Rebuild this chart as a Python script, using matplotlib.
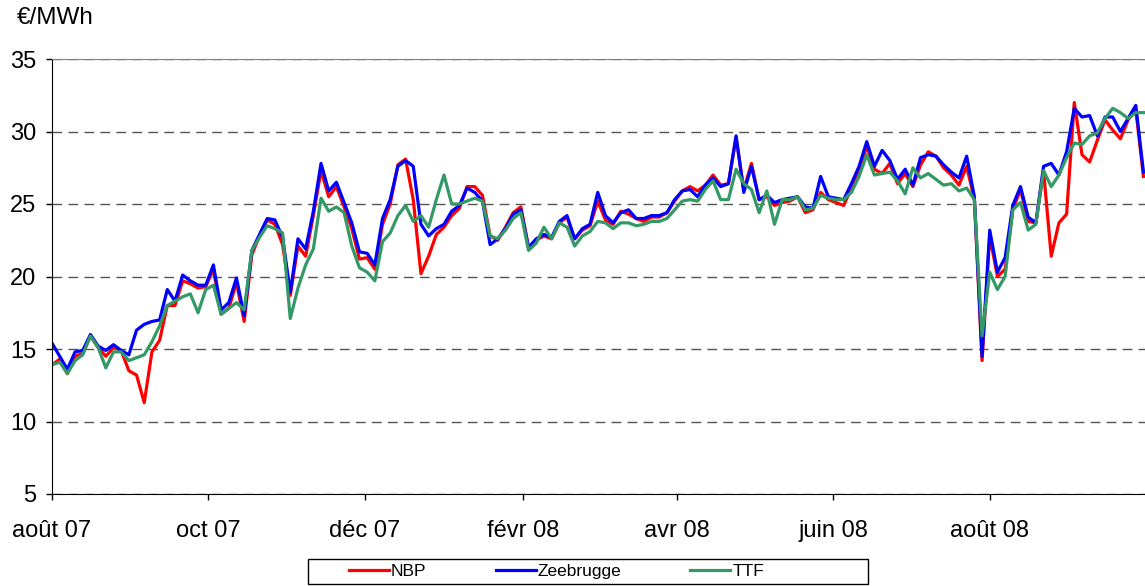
import numpy as np
import matplotlib
matplotlib.use("Agg")
import matplotlib.pyplot as plt
import matplotlib.dates as mdates
from matplotlib.patches import Rectangle

plt.rcParams['font.family'] = ['Liberation Sans', 'DejaVu Sans']

# prices sampled every 3 days from 1 Aug 2007 (EUR/MWh)
start = np.datetime64('2007-08-01')
dates = start + np.arange(0, 427, 3).astype('timedelta64[D]')

zeebrugge = [
    15.4, 14.5, 13.6, 14.8, 14.9, 16.0, 15.2, 14.9, 15.3, 14.9,
    14.6, 16.3, 16.7, 16.9, 17.0, 19.1, 18.3, 20.1, 19.7, 19.4,
    19.4, 20.8, 17.7, 18.2, 19.9, 17.3, 21.8, 22.9, 24.0, 23.9,
    22.7, 18.9, 22.6, 21.9, 24.5, 27.8, 25.9, 26.5, 25.1, 23.7,
    21.7, 21.6, 20.8, 24.0, 25.3, 27.6, 28.0, 27.6, 23.6, 22.8,
    23.3, 23.6, 24.5, 24.9, 26.1, 25.8, 25.2, 22.2, 22.6, 23.3,
    24.3, 24.6, 22.0, 22.6, 22.9, 22.7, 23.8, 24.2, 22.6, 23.3,
    23.6, 25.8, 24.2, 23.7, 24.4, 24.6, 24.0, 24.0, 24.2, 24.2,
    24.4, 25.3, 25.9, 26.0, 25.5, 26.3, 26.8, 26.2, 26.4, 29.7,
    25.8, 27.6, 25.3, 25.6, 25.1, 25.3, 25.4, 25.5, 24.8, 24.7,
    26.9, 25.5, 25.4, 25.3, 26.4, 27.6, 29.3, 27.6, 28.7, 28.0,
    26.7, 27.4, 26.3, 28.2, 28.4, 28.3, 27.7, 27.2, 26.8, 28.3,
    25.5, 14.5, 23.2, 20.3, 21.3, 24.9, 26.2, 24.1, 23.7, 27.6,
    27.8, 27.0, 28.6, 31.6, 31.0, 31.1, 29.7, 31.0, 31.0, 30.0,
    30.9, 31.8, 27.2,
]

nbp = [
    13.9, 14.3, 13.3, 14.5, 14.7, 15.9, 15.1, 14.5, 15.1, 14.9,
    13.5, 13.2, 11.3, 14.8, 15.6, 18.0, 18.0, 19.7, 19.5, 19.2,
    19.3, 20.5, 17.4, 17.8, 19.6, 16.9, 21.5, 22.8, 23.9, 23.6,
    22.2, 18.7, 22.1, 21.4, 24.2, 27.3, 25.5, 26.2, 24.8, 23.3,
    21.2, 21.3, 20.5, 23.6, 25.0, 27.7, 28.1, 25.3, 20.2, 21.4,
    22.9, 23.4, 24.2, 24.7, 26.2, 26.2, 25.6, 22.8, 22.5, 23.4,
    24.4, 24.8, 22.0, 22.5, 22.8, 22.6, 23.7, 24.1, 22.6, 23.2,
    23.5, 25.2, 23.9, 23.6, 24.5, 24.3, 24.0, 23.8, 24.1, 24.1,
    24.4, 25.2, 25.9, 26.2, 25.9, 26.3, 27.0, 26.3, 26.4, 29.6,
    26.0, 27.8, 25.3, 25.5, 24.9, 25.1, 25.2, 25.5, 24.4, 24.6,
    25.8, 25.3, 25.1, 24.9, 26.1, 27.2, 29.0, 27.4, 27.1, 27.8,
    26.4, 27.1, 26.2, 27.7, 28.6, 28.3, 27.5, 27.0, 26.3, 27.6,
    25.3, 14.2, 22.8, 20.0, 20.5, 24.6, 26.0, 23.8, 23.7, 27.3,
    21.4, 23.7, 24.3, 32.0, 28.4, 27.9, 29.4, 30.8, 30.1, 29.5,
    30.8, 31.5, 26.9,
]

ttf = [
    13.9, 14.1, 13.3, 14.2, 14.6, 15.9, 15.1, 13.7, 14.8, 14.8,
    14.2, 14.4, 14.6, 15.5, 16.6, 18.0, 18.3, 18.6, 18.8, 17.5,
    19.1, 19.4, 17.4, 17.8, 18.2, 17.7, 21.8, 22.7, 23.5, 23.3,
    23.0, 17.1, 19.2, 20.8, 21.9, 25.4, 24.5, 24.8, 24.4, 22.1,
    20.6, 20.3, 19.7, 22.4, 23.0, 24.2, 24.9, 23.8, 24.2, 23.4,
    25.3, 27.0, 25.0, 25.0, 25.2, 25.4, 25.2, 22.8, 22.6, 23.2,
    24.0, 24.4, 21.8, 22.3, 23.4, 22.6, 23.7, 23.4, 22.1, 22.8,
    23.1, 23.8, 23.7, 23.3, 23.7, 23.7, 23.5, 23.6, 23.8, 23.8,
    24.0, 24.6, 25.2, 25.3, 25.2, 26.0, 26.6, 25.3, 25.3, 27.4,
    26.4, 26.0, 24.4, 25.9, 23.6, 25.3, 25.3, 25.5, 24.6, 24.7,
    25.6, 25.4, 25.3, 25.3, 25.8, 26.9, 28.4, 27.0, 27.1, 27.2,
    26.6, 25.7, 27.5, 26.8, 27.1, 26.7, 26.3, 26.4, 25.9, 26.1,
    25.3, 15.9, 20.3, 19.1, 20.0, 24.6, 25.1, 23.2, 23.6, 27.3,
    26.2, 27.0, 28.2, 29.2, 29.1, 29.7, 29.9, 30.9, 31.6, 31.3,
    30.9, 31.3, 31.3,
]

series = [("NBP", nbp, "#ff0000"),
          ("Zeebrugge", zeebrugge, "#0000ff"),
          ("TTF", ttf, "#339966")]

tick_dates = ['2007-08-01', '2007-10-01', '2007-12-01', '2008-02-01',
              '2008-04-01', '2008-06-01', '2008-08-01']
tick_labels = ['août 07', 'oct 07', 'déc 07', 'févr 08',
               'avr 08', 'juin 08', 'août 08']
y_ticks = [5, 10, 15, 20, 25, 30, 35]

W, H = 1145, 586
fig = plt.figure(figsize=(W / 100, H / 100), dpi=100)
ax = fig.add_axes([52 / W, 1 - 494 / H, 1 - 52 / W, (494 - 59) / H])

handles = []
for name, vals, col in series:
    ln, = ax.plot(dates, vals, color=col, lw=2.3, label=name,
                  solid_joinstyle='round')
    handles.append(ln)

x0 = mdates.date2num(np.datetime64('2007-08-01'))
ax.set_xlim(x0, x0 + 426.6)
ax.set_ylim(5, 35)
ax.set_yticks(y_ticks)
ax.set_xticks(mdates.date2num(np.array(tick_dates, dtype='datetime64[D]')))
ax.set_xticklabels(tick_labels)

ax.yaxis.grid(True, linestyle=(0, (7, 4.5)), color='#555555', lw=1)
ax.set_axisbelow(True)
ax.spines['right'].set_visible(False)
ax.spines['top'].set_color('#808080')
ax.spines['left'].set_color('black')
ax.spines['bottom'].set_color('black')
ax.tick_params(axis='y', length=4.5, width=1, pad=7, labelsize=17)
ax.tick_params(axis='x', length=4.5, width=1, pad=14, labelsize=17)

fig.text(17 / W, 1 - 18 / H, '€/MWh', fontsize=17.5, va='center', ha='left')

# legend box under the plot
fig.patches.append(Rectangle((308 / W, 1 - 584 / H), 560 / W, 25 / H,
                             transform=fig.transFigure, fill=False,
                             edgecolor='black', lw=1))
fig.legend(handles, [s[0] for s in series], loc='center left',
           bbox_to_anchor=(349 / W, 1 - 571.5 / H), ncol=3, frameon=False,
           fontsize=12.5, handlelength=2.3, handletextpad=0.1,
           columnspacing=4.0, borderpad=0, borderaxespad=0)

fig.savefig('out.png', dpi=100)
